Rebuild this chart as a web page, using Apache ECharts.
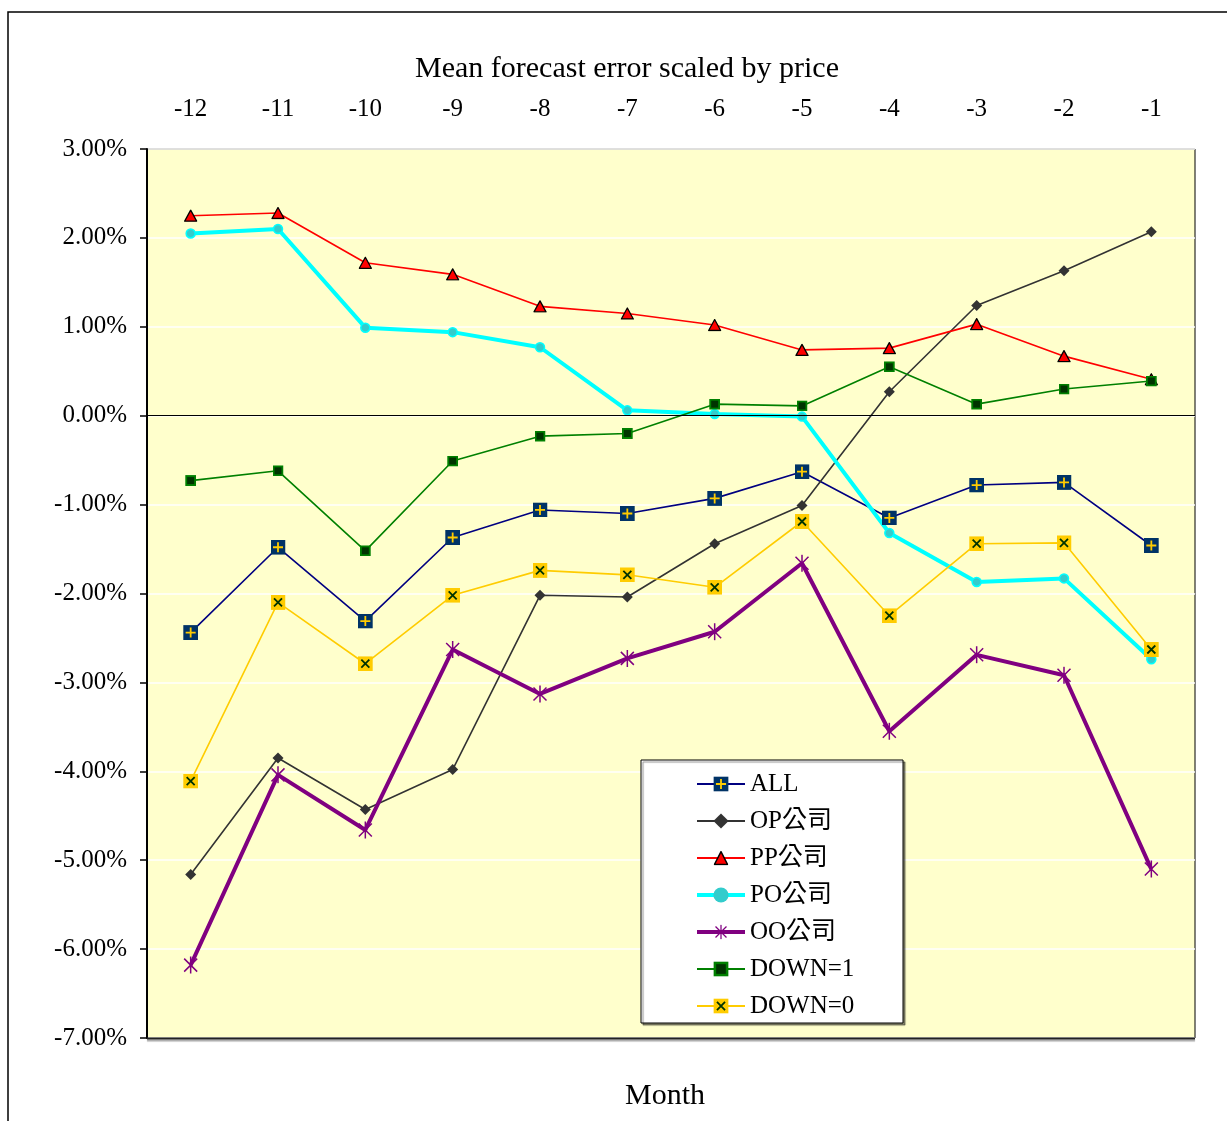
<!DOCTYPE html>
<html>
<head>
<meta charset="utf-8">
<script src="https://cdn.jsdelivr.net/npm/echarts@6/dist/echarts.min.js"></script>
<style>
  html, body { margin: 0; padding: 0; background: #fff; }
  #chart { width: 1227px; height: 1121px; }
</style>
</head>
<body>
<div id="chart"></div>
<script>
// months before the event
const months = ['-12', '-11', '-10', '-9', '-8', '-7', '-6', '-5', '-4', '-3', '-2', '-1'];

// mean forecast error scaled by price, in percent
const allData   = [-2.44, -1.48, -2.31, -1.37, -1.06, -1.10, -0.93, -0.63, -1.15, -0.78, -0.75, -1.46];
const opData    = [-5.16, -3.85, -4.43, -3.98, -2.02, -2.04, -1.44, -1.01, 0.27, 1.24, 1.63, 2.07];
const ppData    = [2.25, 2.28, 1.72, 1.59, 1.23, 1.15, 1.02, 0.74, 0.76, 1.03, 0.67, 0.41];
const poData    = [2.05, 2.10, 0.99, 0.94, 0.77, 0.06, 0.02, -0.01, -1.32, -1.87, -1.83, -2.74];
const ooData    = [-6.18, -4.04, -4.66, -2.63, -3.13, -2.73, -2.43, -1.66, -3.55, -2.69, -2.92, -5.10];
const down1Data = [-0.73, -0.62, -1.52, -0.51, -0.23, -0.20, 0.13, 0.11, 0.55, 0.13, 0.30, 0.39];
const down0Data = [-4.11, -2.10, -2.79, -2.02, -1.74, -1.79, -1.93, -1.19, -2.25, -1.44, -1.43, -2.63];

const FONT = "'Liberation Serif', 'Times New Roman', 'Noto Sans CJK TC', serif";

// two-colour excel style markers as small svg images
function svgIcon(w, h, body) {
  const svg = "<svg xmlns='http://www.w3.org/2000/svg' width='" + w + "' height='" + h + "' viewBox='0 0 " + w + " " + h + "'>" + body + '</svg>';
  return 'image://data:image/svg+xml;charset=utf-8,' + encodeURIComponent(svg);
}
const plusBox = svgIcon(15, 15, "<rect width='15' height='15' fill='#003366'/><path d='M7.5 2.5v10M2.5 7.5h10' stroke='#FFCC00' stroke-width='1.8'/>");
const crossBox = svgIcon(15, 15, "<rect width='15' height='15' fill='#FFCC00'/><path d='M3.5 3.5l8 8M11.5 3.5l-8 8' stroke='#003300' stroke-width='1.8'/>");
const greenBox = svgIcon(11, 11, "<rect x='1' y='1' width='9' height='9' fill='#003300' stroke='#008000' stroke-width='2'/>");
const redTri = svgIcon(14, 13, "<polygon points='7,1 13,12 1,12' fill='#FF0000' stroke='#000' stroke-width='1.3' stroke-linejoin='round'/>");
const star = svgIcon(18, 18, "<path d='M9 0.5v17M2.5 2.5l13 13M15.5 2.5l-13 13' stroke='#800080' stroke-width='1.5'/>");

const chart = echarts.init(document.getElementById('chart'), null, { renderer: 'canvas' });

function line(name, data, color, width, symbol, size, extra) {
  return Object.assign({
    name: name,
    type: 'line',
    data: data,
    symbol: symbol,
    symbolSize: size,
    lineStyle: { color: color, width: width },
    itemStyle: { color: color },
    emphasis: { disabled: true }
  }, extra || {});
}

chart.setOption({
  animation: false,
  backgroundColor: '#fff',
  title: [
    {
      text: 'Mean forecast error scaled by price',
      left: 410,
      top: 49,
      textStyle: { fontFamily: FONT, fontSize: 30, fontWeight: 'normal', color: '#000' }
    },
    {
      text: 'Month',
      left: 620,
      top: 1076,
      textStyle: { fontFamily: FONT, fontSize: 30, fontWeight: 'normal', color: '#000' }
    }
  ],
  graphic: [
    {
      type: 'rect',
      z: -10,
      shape: { x: 8, y: 12, width: 1300, height: 1200 },
      style: { fill: 'none', stroke: '#000', lineWidth: 1.5 }
    },
    {
      // darker bottom edge of the plot area
      type: 'line',
      z: 40,
      shape: { x1: 147, y1: 1038.5, x2: 1195, y2: 1038.5 },
      style: { stroke: '#222', lineWidth: 2, shadowColor: 'rgba(0,0,0,0.35)', shadowOffsetY: 2, shadowBlur: 1 }
    },
    {
      type: 'rect',
      z: 50,
      shape: { x: 641, y: 760, width: 262, height: 263 },
      style: {
        fill: '#fff', stroke: '#000', lineWidth: 1,
        shadowColor: 'rgba(0,0,0,0.45)', shadowOffsetX: 2, shadowOffsetY: 2, shadowBlur: 1
      }
    }
  ],
  legend: {
    orient: 'vertical',
    left: 690,
    top: 766,
    z: 60,
    itemWidth: 48,
    itemHeight: 19,
    itemGap: 11,
    itemStyle: { borderWidth: 0 },
    textStyle: { fontFamily: FONT, fontSize: 25, color: '#000', lineHeight: 26 },
    selectedMode: false,
    data: [
      'ALL',
      'OP公司',
      'PP公司',
      { name: 'PO公司', lineStyle: { width: 4 } },
      { name: 'OO公司', lineStyle: { width: 4 } },
      'DOWN=1',
      'DOWN=0'
    ]
  },
  grid: {
    left: 147,
    right: 32,
    top: 149,
    bottom: 83,
    show: true,
    backgroundColor: '#FFFFCC',
    borderColor: '#000',
    borderWidth: 1
  },
  xAxis: {
    type: 'category',
    position: 'top',
    data: months,
    axisLine: { show: false },
    axisTick: { show: false },
    axisLabel: { margin: 27, fontFamily: FONT, fontSize: 25, color: '#000' },
    splitLine: { show: false }
  },
  yAxis: {
    type: 'value',
    min: -7,
    max: 3,
    interval: 1,
    axisLine: { show: true, lineStyle: { color: '#000', width: 2 } },
    axisTick: { show: true, length: 7, lineStyle: { color: '#000', width: 1.5 } },
    axisLabel: {
      margin: 20,
      fontFamily: FONT,
      fontSize: 25,
      color: '#000',
      formatter: function (v) { return v.toFixed(2) + '%'; }
    },
    splitLine: { show: true, lineStyle: { color: '#fff', width: 1.5 } }
  },
  series: [
    line('ALL', allData, '#000080', 1.6, plusBox, 15, {
      markLine: {
        silent: true,
        symbol: 'none',
        label: { show: false },
        lineStyle: { color: '#000', width: 1.2, type: 'solid' },
        data: [{ yAxis: 0 }]
      }
    }),
    line('OP公司', opData, '#333333', 1.6, 'diamond', 11),
    line('PP公司', ppData, '#FF0000', 1.6, redTri, [14, 13]),
    line('PO公司', poData, '#00FFFF', 4, 'circle', 9, {
      itemStyle: { color: '#33CCCC', borderColor: '#00FFFF', borderWidth: 1.5 }
    }),
    line('OO公司', ooData, '#800080', 4, star, 18),
    line('DOWN=1', down1Data, '#008000', 1.6, greenBox, 11),
    line('DOWN=0', down0Data, '#FFCC00', 1.6, crossBox, 15)
  ]
});
</script>
</body>
</html>
